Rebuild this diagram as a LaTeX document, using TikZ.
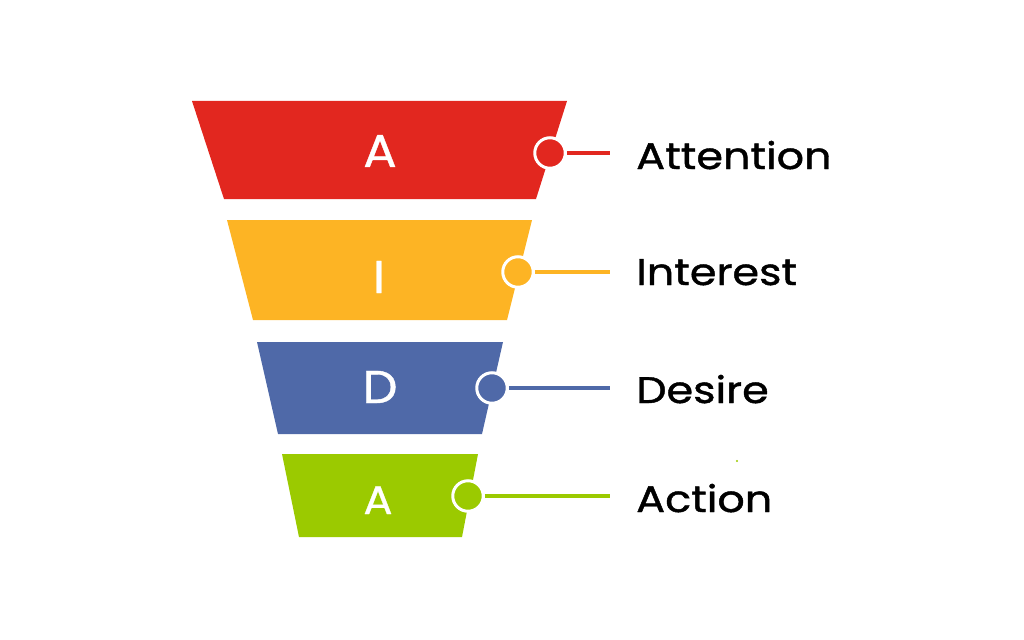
\documentclass[tikz,border=0pt]{standalone}
\usepackage{fontspec}
\setmainfont{Poppins}
\newfontfamily\labelfont[FakeStretch=1.16,FakeBold=1.2]{Poppins}
\newfontfamily\letterfont[FakeStretch=1.08,FakeBold=0.8]{Poppins}
\definecolor{cRed}{HTML}{E2271F}
\definecolor{cYel}{HTML}{FDB424}
\definecolor{cBlu}{HTML}{4F69A8}
\definecolor{cGrn}{HTML}{9BCA00}
\begin{document}
\begin{tikzpicture}[x=1pt,y=-1pt,
  letter/.style={text=white,inner sep=0pt,anchor=base},
  dot/.style={circle,draw=white,line width=3pt,minimum size=30.5pt,inner sep=0pt},
  conn/.style={line width=3.5pt},
  label/.style={anchor=base west,inner sep=0pt,font=\labelfont\fontsize{37}{40}\selectfont}]
\useasboundingbox (0,0) rectangle (1024,639);
% funnel bands
\fill[cRed] (192,101) -- (567,101) -- (536,199) -- (224,199) -- cycle;
\fill[cYel] (227,220) -- (532,220) -- (507,320) -- (253,320) -- cycle;
\fill[cBlu] (257,342) -- (503,342) -- (482,434) -- (278,434) -- cycle;
\fill[cGrn] (282,454) -- (478,454) -- (462,537) -- (299,537) -- cycle;
% letters
\node[letter,font=\letterfont\fontsize{46}{50}\selectfont] (l1) at (380,167) {A};
\node[letter,font=\letterfont\fontsize{46}{50}\selectfont] (l2) at (379,293) {I};
\node[letter,font=\letterfont\fontsize{46}{50}\selectfont] (l3) at (380,403) {D};
\node[letter,font=\letterfont\fontsize{40}{44}\selectfont] (l4) at (378,514) {A};
% end points
\coordinate (e1) at (610,153);
\coordinate (e2) at (610,272);
\coordinate (e3) at (610,388);
\coordinate (e4) at (610,496);
% dots
\node[dot,fill=cRed] (c1) at (550,153) {};
\node[dot,fill=cYel] (c2) at (518,272) {};
\node[dot,fill=cBlu] (c3) at (492,388) {};
\node[dot,fill=cGrn] (c4) at (468,496) {};
% connectors
\draw[conn,cRed] (c1.east) -- (e1);
\draw[conn,cYel] (c2.east) -- (e2);
\draw[conn,cBlu] (c3.east) -- (e3);
\draw[conn,cGrn] (c4.east) -- (e4);
% labels
\node[label] (t1) at (636,169) {Attention};
\node[label] (t2) at (636,285) {Interest};
\node[label] (t3) at (636,403) {Desire};
\node[label] (t4) at (636,512) {Action};
% stray dot
\fill[cGrn] (737,461) circle (1.2);
\end{tikzpicture}
\end{document}
